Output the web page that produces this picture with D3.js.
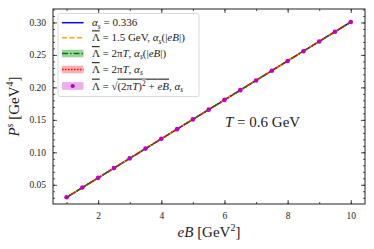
<!DOCTYPE html>
<html>
<head>
<meta charset="utf-8">
<script src="https://cdn.jsdelivr.net/npm/d3@7"></script>
<style>
  body { margin: 0; background: #fff; }
  text { font-family: "Liberation Serif", "DejaVu Serif", serif; fill: #222; }
</style>
</head>
<body>
<div id="chart"></div>
<script>
// eB grid [GeV^2] and pressure P^s [GeV^4] for each scheme
const eB = [1, 1.5, 2, 2.5, 3, 3.5, 4, 4.5, 5, 5.5, 6, 6.5, 7, 7.5, 8, 8.5, 9, 9.5, 10];
const pFixed   = [0.0307, 0.0457, 0.0607, 0.0757, 0.0907, 0.1057, 0.1207, 0.1357, 0.1507, 0.1657, 0.1807, 0.1957, 0.2107, 0.2257, 0.2407, 0.2557, 0.2707, 0.2857, 0.3007];
const pLam15   = [0.0307, 0.0457, 0.0607, 0.0757, 0.0907, 0.1057, 0.1207, 0.1357, 0.1507, 0.1657, 0.1807, 0.1957, 0.2107, 0.2257, 0.2407, 0.2557, 0.2707, 0.2857, 0.3007];
const pTwoPiEB = [0.0307, 0.0457, 0.0607, 0.0757, 0.0907, 0.1057, 0.1207, 0.1357, 0.1507, 0.1657, 0.1807, 0.1957, 0.2107, 0.2257, 0.2407, 0.2557, 0.2707, 0.2857, 0.3007];
const pTwoPi   = [0.0307, 0.0457, 0.0607, 0.0757, 0.0907, 0.1057, 0.1207, 0.1357, 0.1507, 0.1657, 0.1807, 0.1957, 0.2107, 0.2257, 0.2407, 0.2557, 0.2707, 0.2857, 0.3007];
const pSqrt    = [0.0307, 0.0457, 0.0607, 0.0757, 0.0907, 0.1057, 0.1207, 0.1357, 0.1507, 0.1657, 0.1807, 0.1957, 0.2107, 0.2257, 0.2407, 0.2557, 0.2707, 0.2857, 0.3007];

const xTicks = [2, 4, 6, 8, 10];
const yTicks = [0.05, 0.10, 0.15, 0.20, 0.25, 0.30];

const width = 374, height = 249;
const margin = { top: 9, right: 9, bottom: 45, left: 53 };

const svg = d3.select("#chart").append("svg")
  .attr("width", width).attr("height", height);

const x = d3.scaleLinear().domain([0.57, 10.45]).range([margin.left, width - margin.right]);
const y = d3.scaleLinear().domain([0.0204, 0.3207]).range([height - margin.bottom, margin.top]);

const rows = eB.map((v, i) => ({ x: v, a: pFixed[i], b: pLam15[i], c: pTwoPiEB[i], d: pTwoPi[i], e: pSqrt[i] }));

// series lines
const series = [
  { key: "a", color: "#0000ff", dash: null },
  { key: "b", color: "#ffa500", dash: "5,2.5" },
  { key: "c", color: "#008000", dash: "6,2,1.5,2" },
  { key: "d", color: "#ff0000", dash: "1.5,1.5" }
];
series.forEach(s => {
  svg.append("path")
    .datum(rows)
    .attr("fill", "none")
    .attr("stroke", s.color)
    .attr("stroke-width", 1.5)
    .attr("stroke-dasharray", s.dash)
    .attr("d", d3.line().x(d => x(d.x)).y(d => y(d[s.key])));
});
svg.append("g").selectAll("circle")
  .data(rows)
  .join("circle")
    .attr("cx", d => x(d.x))
    .attr("cy", d => y(d.e))
    .attr("r", 2.3)
    .attr("fill", "#c000c0");

// axes, ticks inward on all four sides
const plotH = height - margin.top - margin.bottom;
const plotW = width - margin.left - margin.right;
const xMinor = d3.range(1, 11, 1);
const yMinor = d3.range(0.03, 0.321, 0.01);

function axisStyle(g) {
  g.select(".domain").remove();
  g.selectAll("line").attr("stroke", "#222").attr("stroke-width", 0.8);
  g.selectAll("text").attr("font-size", "9.5px");
}

svg.append("g").attr("transform", `translate(0,${height - margin.bottom})`)
  .call(d3.axisBottom(x).tickValues(xTicks).tickFormat(d3.format("d")).tickSizeInner(-4).tickPadding(8))
  .call(axisStyle);
svg.append("g").attr("transform", `translate(0,${height - margin.bottom})`)
  .call(d3.axisBottom(x).tickValues(xMinor).tickFormat("").tickSizeInner(-2))
  .call(axisStyle);
svg.append("g").attr("transform", `translate(0,${margin.top})`)
  .call(d3.axisTop(x).tickValues(xTicks).tickFormat("").tickSizeInner(-4))
  .call(axisStyle);
svg.append("g").attr("transform", `translate(0,${margin.top})`)
  .call(d3.axisTop(x).tickValues(xMinor).tickFormat("").tickSizeInner(-2))
  .call(axisStyle);

svg.append("g").attr("transform", `translate(${margin.left},0)`)
  .call(d3.axisLeft(y).tickValues(yTicks).tickFormat(d3.format(".2f")).tickSizeInner(-4).tickPadding(7))
  .call(axisStyle);
svg.append("g").attr("transform", `translate(${margin.left},0)`)
  .call(d3.axisLeft(y).tickValues(yMinor).tickFormat("").tickSizeInner(-2))
  .call(axisStyle);
svg.append("g").attr("transform", `translate(${width - margin.right},0)`)
  .call(d3.axisRight(y).tickValues(yTicks).tickFormat("").tickSizeInner(-4))
  .call(axisStyle);
svg.append("g").attr("transform", `translate(${width - margin.right},0)`)
  .call(d3.axisRight(y).tickValues(yMinor).tickFormat("").tickSizeInner(-2))
  .call(axisStyle);

svg.append("rect")
  .attr("x", margin.left).attr("y", margin.top)
  .attr("width", plotW).attr("height", plotH)
  .attr("fill", "none").attr("stroke", "#222").attr("stroke-width", 1);

// axis labels
const xl = svg.append("text")
  .attr("x", margin.left + plotW / 2).attr("y", 237)
  .attr("text-anchor", "middle").attr("font-size", "15px");
xl.append("tspan").attr("font-style", "italic").text("eB");
xl.append("tspan").text(" [GeV");
xl.append("tspan").attr("font-size", "10px").attr("dy", -6).text("2");
xl.append("tspan").attr("dy", 6).text("]");

const yl = svg.append("text")
  .attr("transform", `translate(19,${margin.top + plotH / 2}) rotate(-90)`)
  .attr("text-anchor", "middle").attr("font-size", "15px");
yl.append("tspan").attr("font-style", "italic").text("P");
yl.append("tspan").attr("font-size", "10px").attr("dy", -6).attr("font-style", "italic").text("s");
yl.append("tspan").attr("dy", 6).text(" [GeV");
yl.append("tspan").attr("font-size", "10px").attr("dy", -6).text("4");
yl.append("tspan").attr("dy", 6).text("]");

// annotation
const ann = svg.append("text").attr("x", 225).attr("y", 127).attr("font-size", "15px");
ann.append("tspan").attr("font-style", "italic").text("T");
ann.append("tspan").text(" = 0.6 GeV");

// legend
const lg = svg.append("g");
lg.append("rect")
  .attr("x", 58).attr("y", 13.5).attr("width", 141).attr("height", 83).attr("rx", 2)
  .attr("fill", "#fff").attr("fill-opacity", 0.85).attr("stroke", "#d0d0d0").attr("stroke-width", 0.8);

// label parts: [text, style]; "L" = Lambda with bar, "r" = under the root bar
const legendItems = [
  { color: "#0000ff", dash: null, band: null, marker: false,
    label: [["α", "i"], ["s", "sub"], [" = 0.336", ""]] },
  { color: "#ffa500", dash: "5,2.5", band: null, marker: false,
    label: [["Λ", "L"], [" = 1.5 GeV, ", ""], ["α", "i"], ["s", "sub"], ["(|", ""], ["eB", "i"], ["|)", ""]] },
  { color: "#008000", dash: "6,2,1.5,2", band: "#9fd29f", marker: false,
    label: [["Λ", "L"], [" = 2π", ""], ["T", "i"], [", ", ""], ["α", "i"], ["s", "sub"], ["(|", ""], ["eB", "i"], ["|)", ""]] },
  { color: "#ff0000", dash: "1.5,1.5", band: "#ffb0b0", marker: false,
    label: [["Λ", "L"], [" = 2π", ""], ["T", "i"], [", ", ""], ["α", "i"], ["s", "sub"]] },
  { color: "#c000c0", dash: null, band: "#eab0ea", marker: true,
    label: [["Λ", "L"], [" = √", ""], ["(2π", "r"], ["T", "ri"], [")", "r"], ["2", "rsup"], [" + ", "r"], ["eB", "ri"], [", ", ""], ["α", "i"], ["s", "sub"]] }
];
const rowY = [22.7, 37.7, 53.5, 69.5, 86];

legendItems.forEach((it, i) => {
  const cy = rowY[i];
  if (it.band) {
    lg.append("rect").attr("x", 62).attr("y", cy - 3.8).attr("width", 21.5).attr("height", 7.6)
      .attr("fill", it.band);
  }
  if (it.marker) {
    lg.append("circle").attr("cx", 72.7).attr("cy", cy).attr("r", 2.1).attr("fill", it.color);
  } else {
    lg.append("line").attr("x1", 62).attr("x2", 83.5).attr("y1", cy).attr("y2", cy)
      .attr("stroke", it.color).attr("stroke-width", 1.5).attr("stroke-dasharray", it.dash);
  }
  const t = lg.append("text").attr("x", 92).attr("y", cy + 3.6).attr("font-size", "11px");
  let shift = 0;
  it.label.forEach(([s, st]) => {
    const sp = t.append("tspan").text(s);
    if (st.includes("i") || st === "sub") sp.attr("font-style", "italic");
    if (st === "L" || st.startsWith("r")) sp.attr("text-decoration", "overline");
    const target = st === "sub" ? 2.3 : st.endsWith("sup") ? -4 : 0;
    if (st === "sub" || st.endsWith("sup")) sp.attr("font-size", "7.5px");
    sp.attr("dy", target - shift);
    shift = target;
  });
});
</script>
</body>
</html>
